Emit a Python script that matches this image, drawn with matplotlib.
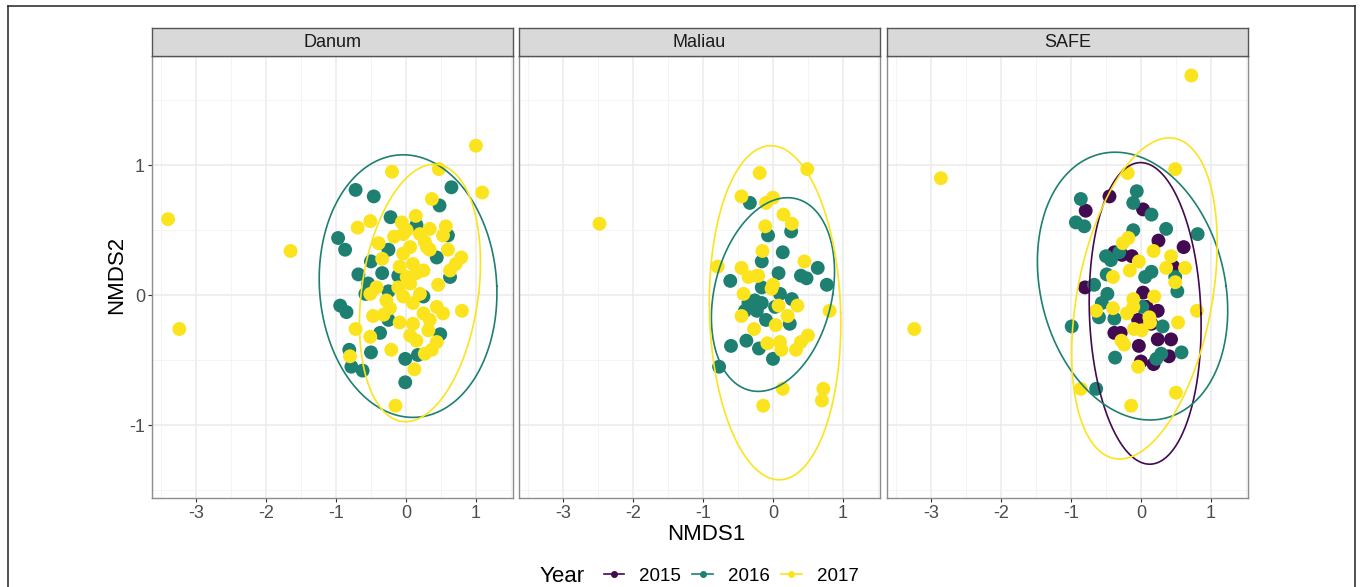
import numpy as np
import matplotlib
matplotlib.use('Agg')
import matplotlib.pyplot as plt
from matplotlib.lines import Line2D

plt.rcParams['font.family'] = ['Liberation Sans', 'DejaVu Sans']

# 配色（viridis 三色）
COLORS = {'2015': '#420A50', '2016': '#1D8070', '2017': '#FBE31E'}
YEARS = ['2015', '2016', '2017']
SITES = ['Danum', 'Maliau', 'SAFE']

# ---------------- 数据 ----------------
# Danum
danum_2016_x = [-0.72, -0.46, 0.65, 0.48, -0.22, -0.97, -0.87, -0.68, -0.50, -0.34, -0.54, -0.58,
                -0.25, -0.25, -0.94, -0.85, -0.25, -0.37, -0.50, -0.81, -0.78, -0.62, -0.01, -0.01,
                0.17, 0.49, 0.63, 0.44, 0.60, 0.25, -0.11, 0.15]
danum_2016_y = [0.81, 0.76, 0.83, 0.69, 0.60, 0.44, 0.35, 0.16, 0.26, 0.17, 0.09, 0.01,
                0.35, 0.03, -0.08, -0.13, -0.19, -0.29, -0.44, -0.42, -0.55, -0.58, -0.49, -0.67,
                -0.46, -0.30, 0.14, 0.29, 0.46, -0.01, 0.15, 0.54]
danum_2017_x = [-3.40, -3.24, -1.65, 1.00, 1.09, -0.20, 0.47, 0.37, -0.15, -0.69, -0.51, -0.39,
                -0.34, -0.06, 0.14, -0.17, 0.01, 0.34, 0.57, 0.53, 0.60, 0.79, 0.71, 0.63,
                0.46, 0.34, 0.27, -0.04, -0.09, 0.10, 0.25, 0.15, 0.01, -0.11, -0.04, 0.10,
                0.20, -0.42, -0.51, -0.28, -0.23, -0.32, -0.47, -0.09, 0.10, 0.25, 0.34, 0.44,
                0.53, 0.80, 0.32, 0.06, 0.15, 0.44, 0.37, 0.27, -0.21, -0.51, -0.72, -0.80,
                0.12, 0.30, 0.20, 0.06, -0.04, 0.06]
danum_2017_y = [0.585, -0.26, 0.34, 1.15, 0.79, 0.95, 0.97, 0.74, -0.85, 0.52, 0.57, 0.40,
                0.28, 0.56, 0.61, 0.45, 0.50, 0.51, 0.53, 0.46, 0.35, 0.29, 0.24, 0.19,
                0.08, 0.35, 0.41, 0.32, 0.22, 0.24, 0.19, 0.17, 0.14, 0.06, -0.01, -0.06,
                0.01, 0.06, 0.01, -0.04, -0.10, -0.15, -0.16, -0.21, -0.22, -0.14, -0.19, -0.09,
                -0.14, -0.12, -0.27, -0.31, -0.35, -0.36, -0.42, -0.45, -0.42, -0.32, -0.26, -0.47,
                -0.57, 0.37, 0.47, 0.37, 0.47, 0.09]

# Maliau
maliau_2016_x = [-0.33, -0.07, 0.26, -0.16, 0.14, 0.08, -0.61, 0.64, 0.40, 0.48, 0.77, 0.10,
                 0.27, -0.16, -0.26, -0.35, -0.16, -0.23, -0.40, 0.03, -0.10, 0.24, -0.38, -0.60,
                 -0.20, 0.00, -0.77]
maliau_2016_y = [0.71, 0.46, 0.49, 0.26, 0.33, 0.17, 0.11, 0.21, 0.15, 0.13, 0.08, 0.01,
                 -0.03, 0.06, -0.04, -0.06, -0.06, -0.12, -0.12, -0.09, -0.19, -0.22, -0.35, -0.39,
                 -0.41, -0.49, -0.55]
maliau_2017_x = [-2.48, -0.19, 0.49, -0.45, -0.10, 0.00, 0.15, 0.27, -0.11, -0.15, -0.79, -0.45,
                 -0.35, -0.21, 0.45, 0.00, -0.02, -0.42, 0.08, 0.35, -0.45, 0.21, 0.81, 0.04,
                 -0.27, 0.50, 0.40, 0.33, 0.10, 0.12, -0.08, 0.14, -0.14, 0.72, 0.70, -0.23]
maliau_2017_y = [0.55, 0.94, 0.97, 0.76, 0.71, 0.75, 0.62, 0.55, 0.53, 0.34, 0.22, 0.21,
                 0.14, 0.15, 0.26, 0.08, 0.05, 0.01, -0.08, -0.08, -0.16, -0.16, -0.12, -0.23,
                 -0.26, -0.31, -0.36, -0.42, -0.36, -0.42, -0.37, -0.72, -0.85, -0.72, -0.81, 0.15]

# SAFE
safe_2015_x = [-0.45, -0.79, 0.03, 0.25, 0.61, -0.38, -0.27, -0.13, 0.46, -0.80, 0.03, 0.08,
               0.24, -0.04, 0.15, -0.38, -0.29, 0.24, 0.43, -0.03, 0.00, 0.18, 0.40]
safe_2015_y = [0.76, 0.65, 0.66, 0.42, 0.37, 0.33, 0.31, 0.30, 0.22, 0.06, 0.02, -0.09,
               -0.12, -0.19, -0.22, -0.29, -0.29, -0.34, -0.34, -0.39, -0.51, -0.53, -0.47]
safe_2016_x = [-0.86, -0.06, -0.11, 0.15, -0.93, -0.81, -0.11, 0.36, 0.81, -0.50, -0.43, -0.31,
               -0.49, 0.15, 0.06, 0.49, 0.52, -0.67, -0.48, -0.56, -0.60, -0.38, 0.02, 0.31,
               -0.99, 0.58, 0.29, 0.22, -0.37, -0.64]
safe_2016_y = [0.74, 0.80, 0.71, 0.62, 0.56, 0.53, 0.50, 0.51, 0.47, 0.30, 0.27, 0.33,
               0.16, 0.18, 0.14, 0.14, 0.03, 0.08, 0.01, -0.06, -0.17, -0.18, -0.09, -0.24,
               -0.24, -0.44, -0.45, -0.49, -0.48, -0.72]
safe_2017_x = [0.72, -2.86, -3.24, -0.19, 0.49, -0.26, -0.18, 0.18, 0.43, 0.63, 0.36, 0.49,
               -0.03, -0.16, -0.40, 0.19, -0.11, -0.11, -0.64, -0.40, -0.20, 0.12, 0.13, -0.10,
               0.01, 0.53, 0.80, -0.28, -0.24, -0.04, -0.86, 0.50, -0.14]
safe_2017_y = [1.69, 0.90, -0.26, 0.94, 0.97, 0.40, 0.44, 0.34, 0.30, 0.21, 0.21, 0.10,
               0.26, 0.19, 0.14, -0.01, -0.03, -0.09, -0.12, -0.10, -0.14, -0.17, -0.21, -0.26,
               -0.27, -0.21, -0.12, -0.35, -0.38, -0.55, -0.72, -0.75, -0.85]

points = {
    'Danum': {'2016': (danum_2016_x, danum_2016_y), '2017': (danum_2017_x, danum_2017_y)},
    'Maliau': {'2016': (maliau_2016_x, maliau_2016_y), '2017': (maliau_2017_x, maliau_2017_y)},
    'SAFE': {'2015': (safe_2015_x, safe_2015_y), '2016': (safe_2016_x, safe_2016_y),
             '2017': (safe_2017_x, safe_2017_y)},
}

# 置信椭圆: 中心x, 中心y, 半宽, 半高, 顶点x偏移
ellipses = {
    'Danum': {'2016': (0.03, 0.07, 1.27, 1.01, -0.07),
              '2017': (0.20, 0.017, 0.865, 0.99, 0.205)},
    'Maliau': {'2016': (0.00, 0.005, 0.88, 0.745, 0.21),
               '2017': (0.03, -0.135, 0.94, 1.285, -0.06)},
    'SAFE': {'2015': (0.06, -0.14, 0.80, 1.16, -0.065),
             '2016': (-0.12, 0.07, 1.36, 1.03, -0.25),
             '2017': (0.05, -0.025, 1.04, 1.235, 0.355)},
}

x_ticks = [-3, -2, -1, 0, 1]
y_ticks = [-1, 0, 1]
XLIM = (-3.63, 1.53)
YLIM = (-1.56, 1.84)

W, H = 1360, 587
fig = plt.figure(figsize=(W / 100, H / 100), dpi=100)

# 外框（左、上、右）
frame_kw = dict(color='#333333', linewidth=1.2, transform=fig.transFigure)
fig.add_artist(Line2D([8 / W, 8 / W], [0, 1 - 6 / H], **frame_kw))
fig.add_artist(Line2D([8 / W, 1355 / W], [1 - 6 / H, 1 - 6 / H], **frame_kw))
fig.add_artist(Line2D([1355 / W, 1355 / W], [0, 1 - 6 / H], **frame_kw))

panel_left = [152, 519, 887]
panel_w = 361
top_px, bot_px = 56, 498
strip_top = 28

t = np.linspace(0, 2 * np.pi, 300)

for i, site in enumerate(SITES):
    l = panel_left[i]
    ax = fig.add_axes([l / W, 1 - bot_px / H, panel_w / W, (bot_px - top_px) / H])
    ax.set_xlim(*XLIM)
    ax.set_ylim(*YLIM)
    ax.set_xticks(x_ticks)
    ax.set_yticks(y_ticks)
    ax.set_xticks([-3.5, -2.5, -1.5, -0.5, 0.5, 1.5], minor=True)
    ax.set_yticks([-1.5, -0.5, 0.5, 1.5], minor=True)
    ax.grid(True, which='major', color='#EBEBEB', linewidth=1.1)
    ax.grid(True, which='minor', color='#F2F2F2', linewidth=0.6)
    ax.set_axisbelow(True)
    for sp in ax.spines.values():
        sp.set_color('#8C8C8C')
        sp.set_linewidth(1.0)
    ax.tick_params(which='major', length=3, color='#333333', labelsize=13,
                   labelcolor='#4D4D4D', pad=2)
    ax.tick_params(which='minor', length=0)
    ax.set_xticklabels([str(v) for v in x_ticks])
    if i == 0:
        ax.set_yticklabels([str(v) for v in y_ticks])
    else:
        ax.set_yticklabels([])
        ax.tick_params(axis='y', length=0)

    for yr in YEARS:
        if yr in points[site]:
            px, py = points[site][yr]
            ax.scatter(px, py, s=100, c=COLORS[yr], edgecolors='none', zorder=3)
    for yr in YEARS:
        if yr in ellipses[site]:
            cx, cy, hw, hh, s = ellipses[site][yr]
            ex = cx + np.sqrt(hw ** 2 - s ** 2) * np.cos(t) + s * np.sin(t)
            ey = cy + hh * np.sin(t)
            ax.plot(ex, ey, color=COLORS[yr], linewidth=1.2, zorder=4)

    # 分面标题条
    sax = fig.add_axes([l / W, 1 - top_px / H, panel_w / W, (top_px - strip_top) / H])
    sax.set_facecolor('#D9D9D9')
    sax.set_xticks([])
    sax.set_yticks([])
    for sp in sax.spines.values():
        sp.set_color('#555555')
        sp.set_linewidth(1.0)
    sax.text(0.5, 0.48, site, ha='center', va='center', fontsize=13,
             color='#1A1A1A', transform=sax.transAxes)

fig.text(706 / W, 1 - 535 / H, 'NMDS1', ha='center', va='center', fontsize=16)
fig.text(117 / W, 1 - 275 / H, 'NMDS2', ha='center', va='center', fontsize=16,
         rotation=90)

# 图例
fig.text(562 / W, 1 - 576 / H, 'Year', ha='center', va='center', fontsize=16)
handles = [Line2D([0], [0], color=COLORS[yr], marker='o', markersize=4, linewidth=1.2)
           for yr in YEARS]
fig.legend(handles, YEARS, loc='center', bbox_to_anchor=(731 / W, 1 - 576 / H),
           ncol=3, frameon=False, fontsize=13.5, handlelength=1.1, handletextpad=0.8,
           columnspacing=0.6, borderpad=0)

fig.savefig('out.png', dpi=100)
